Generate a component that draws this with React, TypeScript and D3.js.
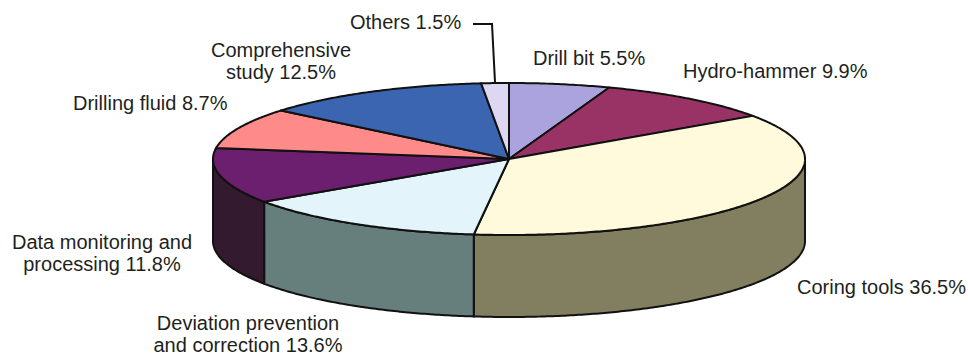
import React from "react";
import * as d3 from "d3";

const categories = [
  "Drill bit",
  "Hydro-hammer",
  "Coring tools",
  "Deviation prevention and correction",
  "Data monitoring and processing",
  "Drilling fluid",
  "Comprehensive study",
  "Others",
];
const values = [5.5, 9.9, 36.5, 13.6, 11.8, 8.7, 12.5, 1.5];
const labelLines = [
  ["Drill bit 5.5%"],
  ["Hydro-hammer 9.9%"],
  ["Coring tools 36.5%"],
  ["Deviation prevention", "and correction 13.6%"],
  ["Data monitoring and", "processing 11.8%"],
  ["Drilling fluid 8.7%"],
  ["Comprehensive", "study 12.5%"],
  ["Others 1.5%"],
];
const topColors = ["#aaa3dd", "#993366", "#fffadb", "#e3f4fb", "#6b1f6e", "#ff8a8a", "#3b65b0", "#ddd7f2"];
const sideColors = ["#6f6a91", "#642143", "#827f60", "#667f7d", "#331a2e", "#a65a5a", "#264273", "#908c9e"];

// label anchor positions (x, first baseline, anchor)
const labelPos: [number, number, string][] = [
  [533, 65, "start"],
  [683, 78, "start"],
  [797, 294, "start"],
  [248, 330, "middle"],
  [102, 249, "middle"],
  [73, 110, "start"],
  [281, 57, "middle"],
  [350, 29, "start"],
];

const W = 968, H = 357;
const cx = 509, cy = 159, rx = 296, ry = 76, depth = 82;

function pt(a: number, off = 0): [number, number] {
  return [cx + rx * Math.sin(a), cy - ry * Math.cos(a) + off];
}
function arcPts(a0: number, a1: number, off = 0): [number, number][] {
  const n = Math.max(2, Math.ceil(Math.abs(a1 - a0) / 0.01));
  const out: [number, number][] = [];
  for (let i = 0; i <= n; i++) out.push(pt(a0 + ((a1 - a0) * i) / n, off));
  return out;
}

export default function App() {
  const pie = d3.pie<number>().sort(null).value((d) => d);
  const arcs = pie(values);
  const line = d3.line().curve(d3.curveLinear);

  const sides = arcs
    .map((a, i) => {
      const s = Math.max(a.startAngle, Math.PI / 2);
      const e = Math.min(a.endAngle, (3 * Math.PI) / 2);
      if (e <= s) return null;
      const pts = [...arcPts(s, e, 0), ...arcPts(e, s, depth)];
      return <path key={"s" + i} d={line(pts) + "Z"} fill={sideColors[i]} stroke="#111" strokeWidth={2} strokeLinejoin="round" />;
    })
    .filter(Boolean);

  const tops = arcs.map((a, i) => {
    const pts: [number, number][] = [[cx, cy], ...arcPts(a.startAngle, a.endAngle, 0)];
    return <path key={"t" + i} d={line(pts) + "Z"} fill={topColors[i]} stroke="#111" strokeWidth={2} strokeLinejoin="round" />;
  });

  const othersArc = arcs[7];
  const om = pt((othersArc.startAngle + othersArc.endAngle) / 2);

  return (
    <svg width={W} height={H} style={{ position: "absolute", left: 0, top: 0 }}>
      <rect width={W} height={H} fill="#fff" />
      {sides}
      {tops}
      <path d={line([[473, 24], [492, 24], [om[0], om[1]]])!} fill="none" stroke="#111" strokeWidth={2} />
      {labelLines.map((lines, i) => (
        <text
          key={"l" + i}
          x={labelPos[i][0]}
          y={labelPos[i][1]}
          textAnchor={labelPos[i][2] as any}
          fontFamily="'Liberation Sans', Arial, sans-serif"
          fontSize={20}
          fill="#231f20"
        >
          {lines.map((t, j) => (
            <tspan key={j} x={labelPos[i][0]} dy={j === 0 ? 0 : 22}>
              {t}
            </tspan>
          ))}
        </text>
      ))}
    </svg>
  );
}
